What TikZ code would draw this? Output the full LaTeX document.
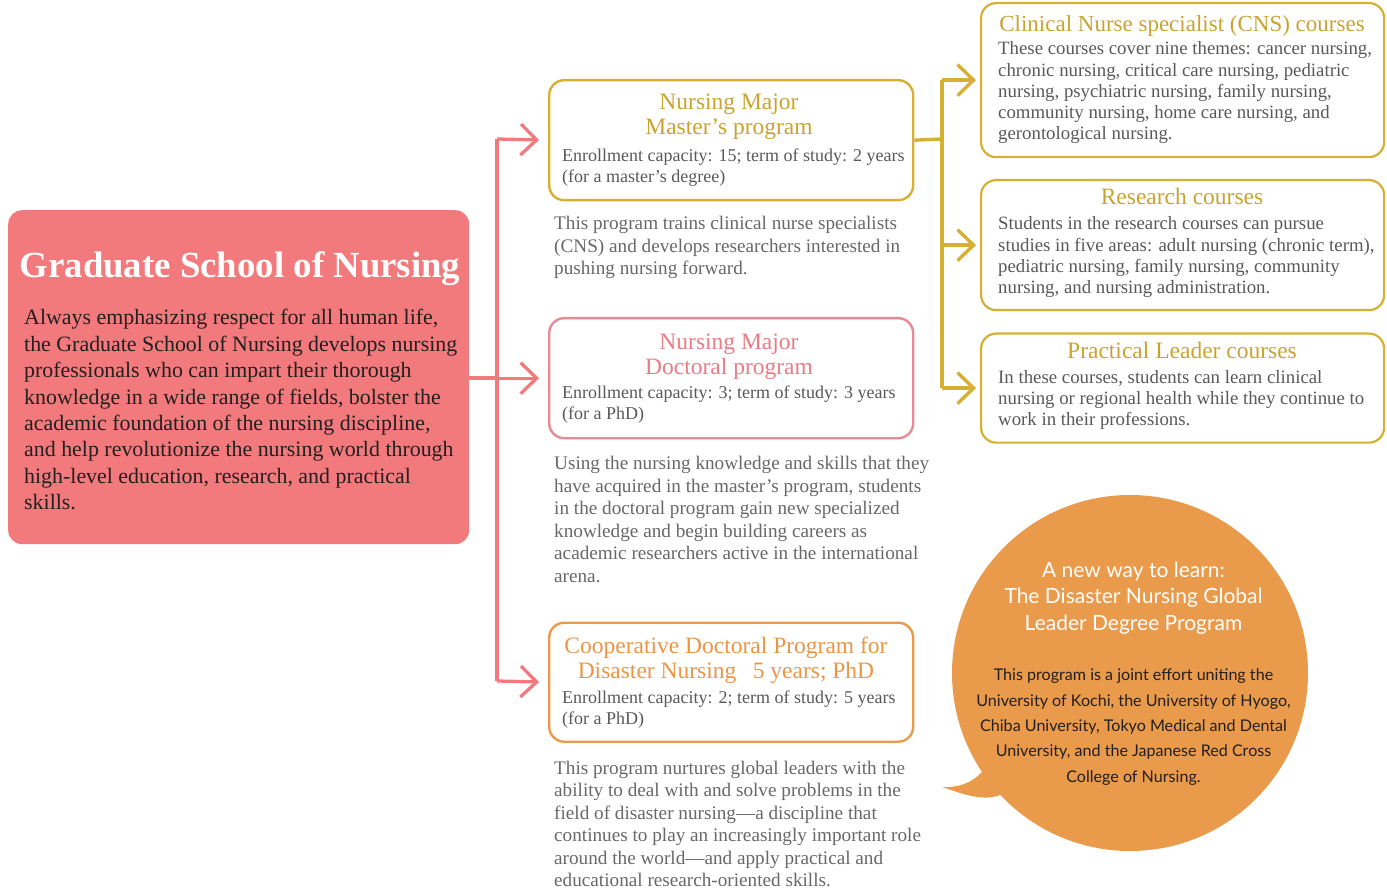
\documentclass[tikz,border=0pt]{standalone}
\usepackage{fontspec}
\setmainfont{Liberation Serif}
\newfontfamily\bubblefont{Lato}
\usetikzlibrary{arrows.meta}
\definecolor{gsnpink}{RGB}{242,122,124}
\definecolor{ybord}{RGB}{214,176,50}
\definecolor{ytext}{RGB}{201,163,48}
\definecolor{dbord}{RGB}{229,139,149}
\definecolor{dtext}{RGB}{234,124,134}
\definecolor{obord}{RGB}{233,154,74}
\definecolor{otext}{RGB}{235,150,70}
\definecolor{bodygray}{RGB}{90,88,88}
\definecolor{descgray}{RGB}{105,104,104}
\definecolor{darktext}{RGB}{35,31,32}
\newcommand\mytab[2]{\begin{tabular}[t]{@{}#1@{}}#2\end{tabular}}
\begin{document}
\begin{tikzpicture}[x=1pt,y=-1pt,
  progbox/.style={draw, line width=2.4pt, rounded corners=15pt, minimum width=364pt, minimum height=120pt, inner sep=0pt, anchor=north west},
  coursebox/.style={draw=ybord, line width=2.2pt, rounded corners=15pt, minimum width=403pt, inner sep=0pt, anchor=north west},
  txt/.style={inner sep=0pt, anchor=base west},
  ctxt/.style={inner sep=0pt, anchor=base},
  titlef/.style={font=\fontsize{23.5}{25}\selectfont},
  bodyf/.style={font=\fontsize{18}{21}\selectfont, text=bodygray},
  descf/.style={font=\fontsize{19.2}{22.5}\selectfont, text=descgray},
  coursef/.style={font=\fontsize{18.8}{21.1}\selectfont, text=bodygray},
  pinkline/.style={draw=gsnpink, line width=3.3pt},
  yline/.style={draw=ybord, line width=3.4pt},
  chev/.style={-{Straight Barb[length=16pt,width=31pt]}}
]
\useasboundingbox (0,0) rectangle (1387,893);

% main box
\node[fill=gsnpink, rounded corners=14pt, minimum width=461pt, minimum height=334pt, inner sep=0pt, anchor=north west] (gsn) at (8,210) {};
\node[ctxt, text=white, font=\fontsize{36.8}{40}\selectfont\bfseries] (gsntitle) at (240,278) {Graduate School of Nursing};
\node[txt, text=darktext, font=\fontsize{21.9}{26.4}\selectfont] (gsnbody) at (24,325) {\mytab{l}{Always emphasizing respect for all human life,\\
the Graduate School of Nursing develops nursing\\
professionals who can impart their thorough\\
knowledge in a wide range of fields, bolster the\\
academic foundation of the nursing discipline,\\
and help revolutionize the nursing world through\\
high-level education, research, and practical\\
skills.}};

% program boxes
\node[progbox, draw=ybord] (master) at (548,79) {};
\node[ctxt, titlef, text=ytext] (mastertitle) at (729,110) {\mytab{c}{Nursing Major\\Master’s program}};
\node[txt, bodyf] (masterbody) at (562,161.5) {\mytab{l}{Enrollment capacity: 15; term of study: 2 years\\(for a master’s degree)}};
\node[txt, descf] (masterdesc) at (554,230) {\mytab{l}{This program trains clinical nurse specialists\\
(CNS) and develops researchers interested in\\
pushing nursing forward.}};

\node[progbox, draw=dbord] (doctor) at (548,317) {};
\node[ctxt, titlef, text=dtext] (doctortitle) at (729,349) {\mytab{c}{Nursing Major\\Doctoral program}};
\node[txt, bodyf] (doctorbody) at (562,398.5) {\mytab{l}{Enrollment capacity: 3; term of study: 3 years\\(for a PhD)}};
\node[txt, descf] (doctordesc) at (554,469.5) {\mytab{l}{Using the nursing knowledge and skills that they\\
have acquired in the master’s program, students\\
in the doctoral program gain new specialized\\
knowledge and begin building careers as\\
academic researchers active in the international\\
arena.}};

\node[progbox, draw=obord, minimum height=119pt] (coop) at (548,621.5) {};
\node[ctxt, titlef, text=otext] (cooptitle) at (726,653.5) {\mytab{c}{Cooperative Doctoral Program for\\Disaster Nursing\hspace{0.7em}5 years; PhD}};
\node[txt, bodyf] (coopbody) at (562,703.5) {\mytab{l}{Enrollment capacity: 2; term of study: 5 years\\(for a PhD)}};
\node[txt, descf] (coopdesc) at (554,774) {\mytab{l}{This program nurtures global leaders with the\\
ability to deal with and solve problems in the\\
field of disaster nursing—a discipline that\\
continues to play an increasingly important role\\
around the world—and apply practical and\\
educational research-oriented skills.}};

% course boxes
\node[coursebox, minimum height=154pt] (cns) at (980,2) {};
\node[ctxt, font=\fontsize{23}{25}\selectfont, text=ytext] (cnstitle) at (1182,31.5) {Clinical Nurse specialist (CNS) courses};
\node[txt, coursef] (cnsbody) at (998,55) {\mytab{l}{These courses cover nine themes: cancer nursing,\\
chronic nursing, critical care nursing, pediatric\\
nursing, psychiatric nursing, family nursing,\\
community nursing, home care nursing, and\\
gerontological nursing.}};

\node[coursebox, minimum height=130pt] (research) at (980,179) {};
\node[ctxt, titlef, text=ytext] (researchtitle) at (1182,205) {Research courses};
\node[txt, coursef] (researchbody) at (998,230) {\mytab{l}{Students in the research courses can pursue\\
studies in five areas: adult nursing (chronic term),\\
pediatric nursing, family nursing, community\\
nursing, and nursing administration.}};

\node[coursebox, minimum height=109pt] (practical) at (980,332.5) {};
\node[ctxt, titlef, text=ytext] (practicaltitle) at (1182,358.5) {Practical Leader courses};
\node[txt, coursef] (practicalbody) at (998,383.5) {\mytab{l}{In these courses, students can learn clinical\\
nursing or regional health while they continue to\\
work in their professions.}};

% pink connectors
\coordinate (pj) at (497,378);
\coordinate (ptop) at (497,139);
\coordinate (pbot) at (497,681);
\draw[pinkline] (gsn.east |- pj) -- (pj);
\draw[pinkline] (ptop) -- (pbot);
\draw[pinkline, chev, shorten >=9pt] (ptop) -- (master.west);
\draw[pinkline, chev, shorten >=9pt] (doctor.west -| pj) -- (doctor.west);
\draw[pinkline, chev, shorten >=9pt] (pbot) -- (coop.west);

% yellow connectors
\coordinate (yj) at (942,139);
\draw[yline] (master.east) -- (yj);
\draw[yline] (cns.west -| yj) -- (practical.west -| yj);
\draw[yline, chev, shorten >=4pt] (cns.west -| yj) -- (cns.west);
\draw[yline, chev, shorten >=4pt] (research.west -| yj) -- (research.west);
\draw[yline, chev, shorten >=4pt] (practical.west -| yj) -- (practical.west);

% speech bubble
\node[circle, fill=obord, minimum size=356pt, inner sep=0pt] (bubble) at (1130,673) {};
\fill[obord] (988,766) -- (982,772) .. controls (972,783) and (958,788) .. (942,787)
  .. controls (960,793) and (982,802) .. (1000,795) -- (1006,789) -- cycle;
\node[ctxt, text=white, font=\bubblefont\fontsize{21}{26.4}\selectfont] (bubbletitle) at (1133.5,577.3) {\mytab{c}{A new way to learn:\\The Disaster Nursing Global\\Leader Degree Program}};
\node[ctxt, text=darktext, font=\bubblefont\fontsize{16.1}{25.4}\selectfont] (bubblebody) at (1133.5,680.7) {\mytab{c}{This program is a joint effort uniting the\\
University of Kochi, the University of Hyogo,\\
Chiba University, Tokyo Medical and Dental\\
University, and the Japanese Red Cross\\
College of Nursing.}};
\end{tikzpicture}
\end{document}
